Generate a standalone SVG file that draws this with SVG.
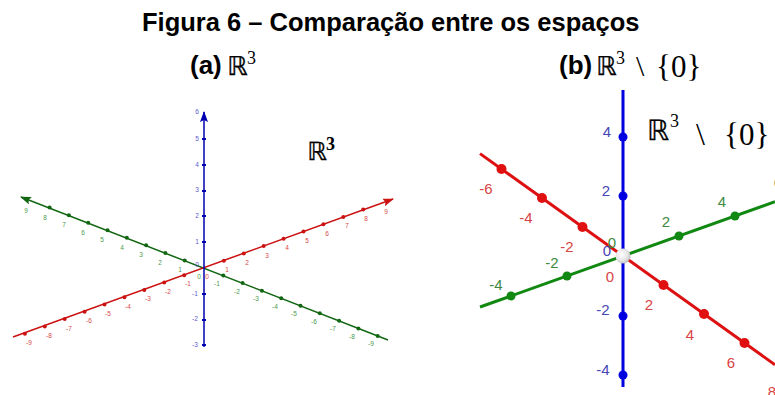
<svg xmlns="http://www.w3.org/2000/svg" width="775" height="395" viewBox="0 0 775 395">
<style>
.title{font-family:"Liberation Sans",Arial,sans-serif;font-weight:bold;fill:#000}
.bb{font-family:"DejaVu Sans",sans-serif;fill:#000;stroke:#000;stroke-width:0.3}
.serif{font-family:"Liberation Serif","Times New Roman",serif;fill:#000}
.lg{font-family:"Liberation Sans",Arial,sans-serif;font-size:6.5px;fill:#4a9a4a;text-anchor:middle}
.lr{font-family:"Liberation Sans",Arial,sans-serif;font-size:6.5px;fill:#d84848;text-anchor:middle}
.lb{font-family:"Liberation Sans",Arial,sans-serif;font-size:6.5px;fill:#5a5acc;text-anchor:middle}
.Lg{font-family:"Liberation Sans",Arial,sans-serif;font-size:15px;fill:#3f8a3f;text-anchor:middle}
.Lr{font-family:"Liberation Sans",Arial,sans-serif;font-size:15px;fill:#d84444;text-anchor:middle}
.Lb{font-family:"Liberation Sans",Arial,sans-serif;font-size:15px;fill:#4646b4;text-anchor:middle}
.dg{fill:#116611}.dr{fill:#cc1111}.db{fill:#0000b0}
.Dg{fill:#118811}.Dr{fill:#e01010}.Db{fill:#0000e0}
</style>
<defs>
<marker id="arrG" markerUnits="userSpaceOnUse" markerWidth="11" markerHeight="8" refX="10" refY="4" orient="auto"><path d="M0,0 L11,4 L0,8 L2,4 z" fill="#116611"/></marker>
<marker id="arrR" markerUnits="userSpaceOnUse" markerWidth="11" markerHeight="8" refX="10" refY="4" orient="auto"><path d="M0,0 L11,4 L0,8 L2,4 z" fill="#cc1111"/></marker>
<marker id="arrB" markerUnits="userSpaceOnUse" markerWidth="11" markerHeight="8" refX="10" refY="4" orient="auto"><path d="M0,0 L11,4 L0,8 L2,4 z" fill="#0000b0"/></marker>
<radialGradient id="sph" cx="0.4" cy="0.4" r="0.7"><stop offset="0" stop-color="#ffffff"/><stop offset="0.6" stop-color="#e4e4e4"/><stop offset="1" stop-color="#b0b0b0"/></radialGradient>
</defs>
<rect width="775" height="395" fill="#fff"/>

<g id="title">
<text class="title" x="142" y="31" font-size="25.5">Figura 6 – Comparação entre os espaços</text>
</g>
<g id="caption-a">
<text class="title" x="190" y="74" font-size="26">(a)</text>
<text class="bb" x="227" y="75" font-size="26">ℝ</text>
<text class="serif" x="247" y="64" font-size="18">3</text>
</g>
<g id="caption-b">
<text class="title" x="559" y="74" font-size="26">(b)</text>
<text class="bb" x="596" y="75" font-size="26">ℝ</text>
<text class="serif" x="616" y="64" font-size="18">3</text>
<text class="serif" x="636" y="76" font-size="30">\</text>
<text class="serif" x="656" y="77" font-size="31">{0}</text>
</g>

<!-- LEFT PLOT -->
<g id="connectors-left">
<line x1="388" y1="340" x2="21" y2="197" stroke="#116611" stroke-width="1.5" marker-end="url(#arrG)"/>
<line x1="13" y1="337" x2="393" y2="199" stroke="#cc1111" stroke-width="1.5" marker-end="url(#arrR)"/>
<line x1="204" y1="347" x2="204" y2="112" stroke="#0000b0" stroke-width="1.5" marker-end="url(#arrB)"/>
</g>
<g id="green-axis-left">
<g class="dg">
<circle cx="49.6" cy="207.6" r="2"/><circle cx="68.9" cy="215.15" r="2"/><circle cx="88.2" cy="222.7" r="2"/><circle cx="107.5" cy="230.25" r="2"/><circle cx="126.8" cy="237.8" r="2"/><circle cx="146.1" cy="245.35" r="2"/><circle cx="165.4" cy="252.9" r="2"/><circle cx="184.7" cy="260.45" r="2"/>
<circle cx="223.3" cy="275.55" r="2"/><circle cx="242.6" cy="283.1" r="2"/><circle cx="261.9" cy="290.65" r="2"/><circle cx="281.2" cy="298.2" r="2"/><circle cx="300.5" cy="305.75" r="2"/><circle cx="319.8" cy="313.3" r="2"/><circle cx="339.1" cy="320.85" r="2"/><circle cx="358.4" cy="328.4" r="2"/><circle cx="377.7" cy="335.95" r="2"/>
</g>
<text class="lg" x="26" y="213">9</text><text class="lg" x="45" y="220">8</text><text class="lg" x="64" y="227">7</text><text class="lg" x="83" y="235">6</text><text class="lg" x="102" y="242">5</text><text class="lg" x="122" y="250">4</text><text class="lg" x="141" y="257">3</text><text class="lg" x="160" y="265">2</text><text class="lg" x="180" y="272">1</text><text class="lg" x="199" y="279">0</text>
<text class="lg" x="217" y="286">-1</text><text class="lg" x="237" y="294">-2</text><text class="lg" x="256" y="301">-3</text><text class="lg" x="275" y="309">-4</text><text class="lg" x="294" y="316">-5</text><text class="lg" x="314" y="324">-6</text><text class="lg" x="333" y="331">-7</text><text class="lg" x="352" y="339">-8</text><text class="lg" x="371" y="346">-9</text>
</g>
<g id="red-axis-left">
<g class="dr">
<circle cx="24.9" cy="333.7" r="2"/><circle cx="44.8" cy="326.4" r="2"/><circle cx="64.7" cy="319.1" r="2"/><circle cx="84.6" cy="311.8" r="2"/><circle cx="104.5" cy="304.5" r="2"/><circle cx="124.4" cy="297.2" r="2"/><circle cx="144.3" cy="289.9" r="2"/><circle cx="164.2" cy="282.6" r="2"/><circle cx="184.1" cy="275.3" r="2"/>
<circle cx="223.9" cy="260.7" r="2"/><circle cx="243.8" cy="253.4" r="2"/><circle cx="263.7" cy="246.1" r="2"/><circle cx="283.6" cy="238.8" r="2"/><circle cx="303.5" cy="231.5" r="2"/><circle cx="323.4" cy="224.2" r="2"/><circle cx="343.3" cy="216.9" r="2"/><circle cx="363.2" cy="209.6" r="2"/>
</g>
<text class="lr" x="29" y="345">-9</text><text class="lr" x="49" y="338">-8</text><text class="lr" x="69" y="331">-7</text><text class="lr" x="89" y="323">-6</text><text class="lr" x="108" y="316">-5</text><text class="lr" x="128" y="309">-4</text><text class="lr" x="148" y="301">-3</text><text class="lr" x="168" y="294">-2</text><text class="lr" x="188" y="286">-1</text><text class="lr" x="207" y="279">0</text>
<text class="lr" x="227" y="272">1</text><text class="lr" x="247" y="265">2</text><text class="lr" x="267" y="258">3</text><text class="lr" x="287" y="250">4</text><text class="lr" x="307" y="243">5</text><text class="lr" x="327" y="236">6</text><text class="lr" x="347" y="228">7</text><text class="lr" x="366" y="221">8</text><text class="lr" x="386" y="214">9</text>
</g>
<g id="blue-axis-left">
<g class="db">
<rect x="202" y="138" width="4" height="2"/><rect x="202" y="164" width="4" height="2"/><rect x="202" y="190" width="4" height="2"/><rect x="202" y="215" width="4" height="2"/><rect x="202" y="241" width="4" height="2"/><rect x="202" y="293" width="4" height="2"/><rect x="202" y="319" width="4" height="2"/><rect x="202" y="344" width="4" height="2"/>
</g>
<text class="lb" x="197" y="114">6</text><text class="lb" x="197" y="141">5</text><text class="lb" x="197" y="167">4</text><text class="lb" x="197" y="192">3</text><text class="lb" x="197" y="218">2</text><text class="lb" x="197" y="244">1</text><text class="lb" x="197" y="267">0</text><text class="lb" x="195" y="296">-1</text><text class="lb" x="195" y="321">-2</text><text class="lb" x="195" y="347">-3</text>
</g>
<g id="label-R3">
<text class="bb" x="307" y="160" font-size="25" fill="#333" stroke="#333">ℝ</text>
<text class="serif" x="326" y="150" font-size="18" font-weight="bold" fill="#333">3</text>
</g>

<!-- RIGHT PLOT -->
<g id="connectors-right">
<line x1="623" y1="90" x2="623" y2="387" stroke="#0000e0" stroke-width="3"/>
<line x1="480" y1="153.6" x2="775" y2="364.8" stroke="#dd1111" stroke-width="3"/>
<line x1="480" y1="307" x2="775" y2="201.7" stroke="#118811" stroke-width="3"/>
</g>
<g id="red-axis-right">
<g class="Dr">
<circle cx="501.5" cy="169" r="5"/><circle cx="542" cy="198" r="5"/><circle cx="582.5" cy="227" r="5"/><circle cx="663.5" cy="285" r="5"/><circle cx="704" cy="314" r="5"/><circle cx="744.5" cy="343" r="5"/>
</g>
<text class="Lr" x="486" y="194">-6</text><text class="Lr" x="526" y="223">-4</text><text class="Lr" x="567" y="252">-2</text><text class="Lr" x="610" y="282">0</text><text class="Lr" x="649" y="310">2</text><text class="Lr" x="690" y="340">4</text><text class="Lr" x="731" y="368">6</text><text class="Lr" x="772" y="397">8</text>
</g>
<g id="green-axis-right">
<g class="Dg">
<circle cx="511" cy="296" r="4.5"/><circle cx="567" cy="276" r="4.5"/><circle cx="679" cy="236" r="4.5"/><circle cx="735" cy="216" r="4.5"/>
</g>
<text class="Lg" x="496" y="290">-4</text><text class="Lg" x="552" y="268">-2</text><text class="Lg" x="612" y="248">0</text><text class="Lg" x="666" y="227">2</text><text class="Lg" x="722" y="207">4</text><text class="Lg" x="778" y="188">6</text>
</g>
<g id="blue-axis-right">
<g class="Db">
<circle cx="623" cy="137" r="4.5"/><circle cx="623" cy="196" r="4.5"/><circle cx="623" cy="316" r="4.5"/><circle cx="623" cy="375" r="4.5"/>
</g>
<text class="Lb" x="607" y="137">4</text><text class="Lb" x="606" y="196">2</text><text class="Lb" x="607" y="256">0</text><text class="Lb" x="603" y="315">-2</text><text class="Lb" x="603" y="375">-4</text>
</g>
<g id="origin-removed">
<circle cx="623" cy="256" r="7.5" fill="url(#sph)"/>
</g>
<g id="label-R3-minus-0">
<text class="bb" x="647" y="140" font-size="28" fill="#222" stroke="#222">ℝ</text>
<text class="serif" x="670" y="127" font-size="18" fill="#222">3</text>
<text class="serif" x="696" y="145" font-size="32" fill="#222">\</text>
<text class="serif" x="724" y="145" font-size="31" fill="#222">{0}</text>
</g>
</svg>
